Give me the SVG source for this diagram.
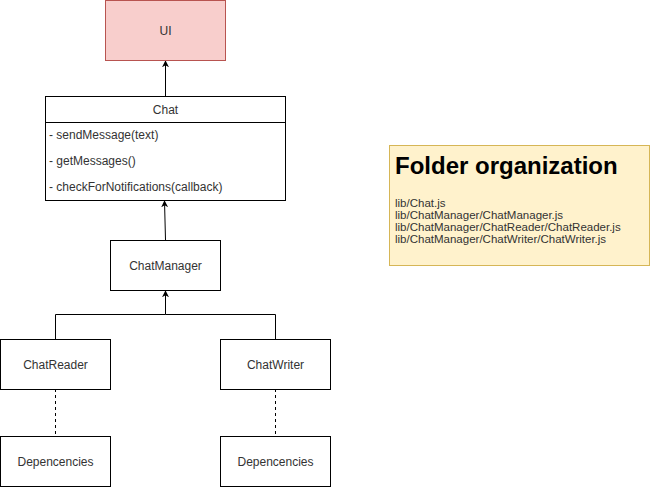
<svg xmlns="http://www.w3.org/2000/svg" width="650" height="487" viewBox="0 0 650 487">
<style>
text{font-family:"Liberation Sans",Arial,sans-serif;font-size:12px;fill:#333}
.c{text-anchor:middle}
.box{fill:#fff;stroke:#000;stroke-width:1}
.ln{fill:none;stroke:#000;stroke-width:1}
.d{stroke-dasharray:3,3}
.f{font-size:11.5px;fill:#333}
</style>
<defs>
<marker id="a" viewBox="0 0 10 10" refX="9" refY="5" markerWidth="7" markerHeight="7" orient="auto" markerUnits="userSpaceOnUse">
<path d="M0,0 L10,5 L0,10 L3,5 Z" fill="#000"/>
</marker>
</defs>
<g id="connectors">
<path class="ln" d="M165.5,96 L165.5,61" marker-end="url(#a)"/>
<path class="ln" d="M165.5,240 L164.5,201" marker-end="url(#a)"/>
<path class="ln" d="M55.5,339 L55.5,314.5 L165.5,314.5 L165.5,291" marker-end="url(#a)"/>
<path class="ln" d="M275.5,339 L275.5,314.5 L165.5,314.5"/>
<path class="ln d" d="M55.5,389 L55.5,436"/>
<path class="ln d" d="M275.5,389 L275.5,436"/>
</g>
<g id="ui">
<rect x="105.5" y="0.5" width="120" height="60" fill="#f8cecc" stroke="#b85450"/>
<text class="c" x="165.5" y="35">UI</text>
</g>
<g id="chat">
<rect class="box" x="45.5" y="96.5" width="240" height="104"/>
<line class="ln" x1="45.5" y1="122.5" x2="285.5" y2="122.5"/>
<text class="c" x="165.5" y="114">Chat</text>
<text x="49" y="139">- sendMessage(text)</text>
<text x="49" y="165">- getMessages()</text>
<text x="49" y="191">- checkForNotifications(callback)</text>
</g>
<g id="chatmanager">
<rect class="box" x="110.5" y="240.5" width="110" height="50"/>
<text class="c" x="165.5" y="270">ChatManager</text>
</g>
<g id="chatreader">
<rect class="box" x="0.5" y="339.5" width="110" height="50"/>
<text class="c" x="55.5" y="369">ChatReader</text>
</g>
<g id="chatwriter">
<rect class="box" x="220.5" y="339.5" width="110" height="50"/>
<text class="c" x="275.5" y="369">ChatWriter</text>
</g>
<g id="dep1">
<rect class="box" x="0.5" y="436.5" width="110" height="50"/>
<text class="c" x="55.5" y="466">Depencencies</text>
</g>
<g id="dep2">
<rect class="box" x="220.5" y="436.5" width="110" height="50"/>
<text class="c" x="275.5" y="466">Depencencies</text>
</g>
<g id="note">
<rect x="389.5" y="145.5" width="260" height="120" fill="#fff2cc" stroke="#d6b656"/>
<text x="395" y="174" style="font-size:24px;font-weight:bold;fill:#000">Folder organization</text>
<text class="f" x="395" y="207">lib/Chat.js</text>
<text class="f" x="395" y="219">lib/ChatManager/ChatManager.js</text>
<text class="f" x="395" y="231">lib/ChatManager/ChatReader/ChatReader.js</text>
<text class="f" x="395" y="243">lib/ChatManager/ChatWriter/ChatWriter.js</text>
</g>
</svg>
